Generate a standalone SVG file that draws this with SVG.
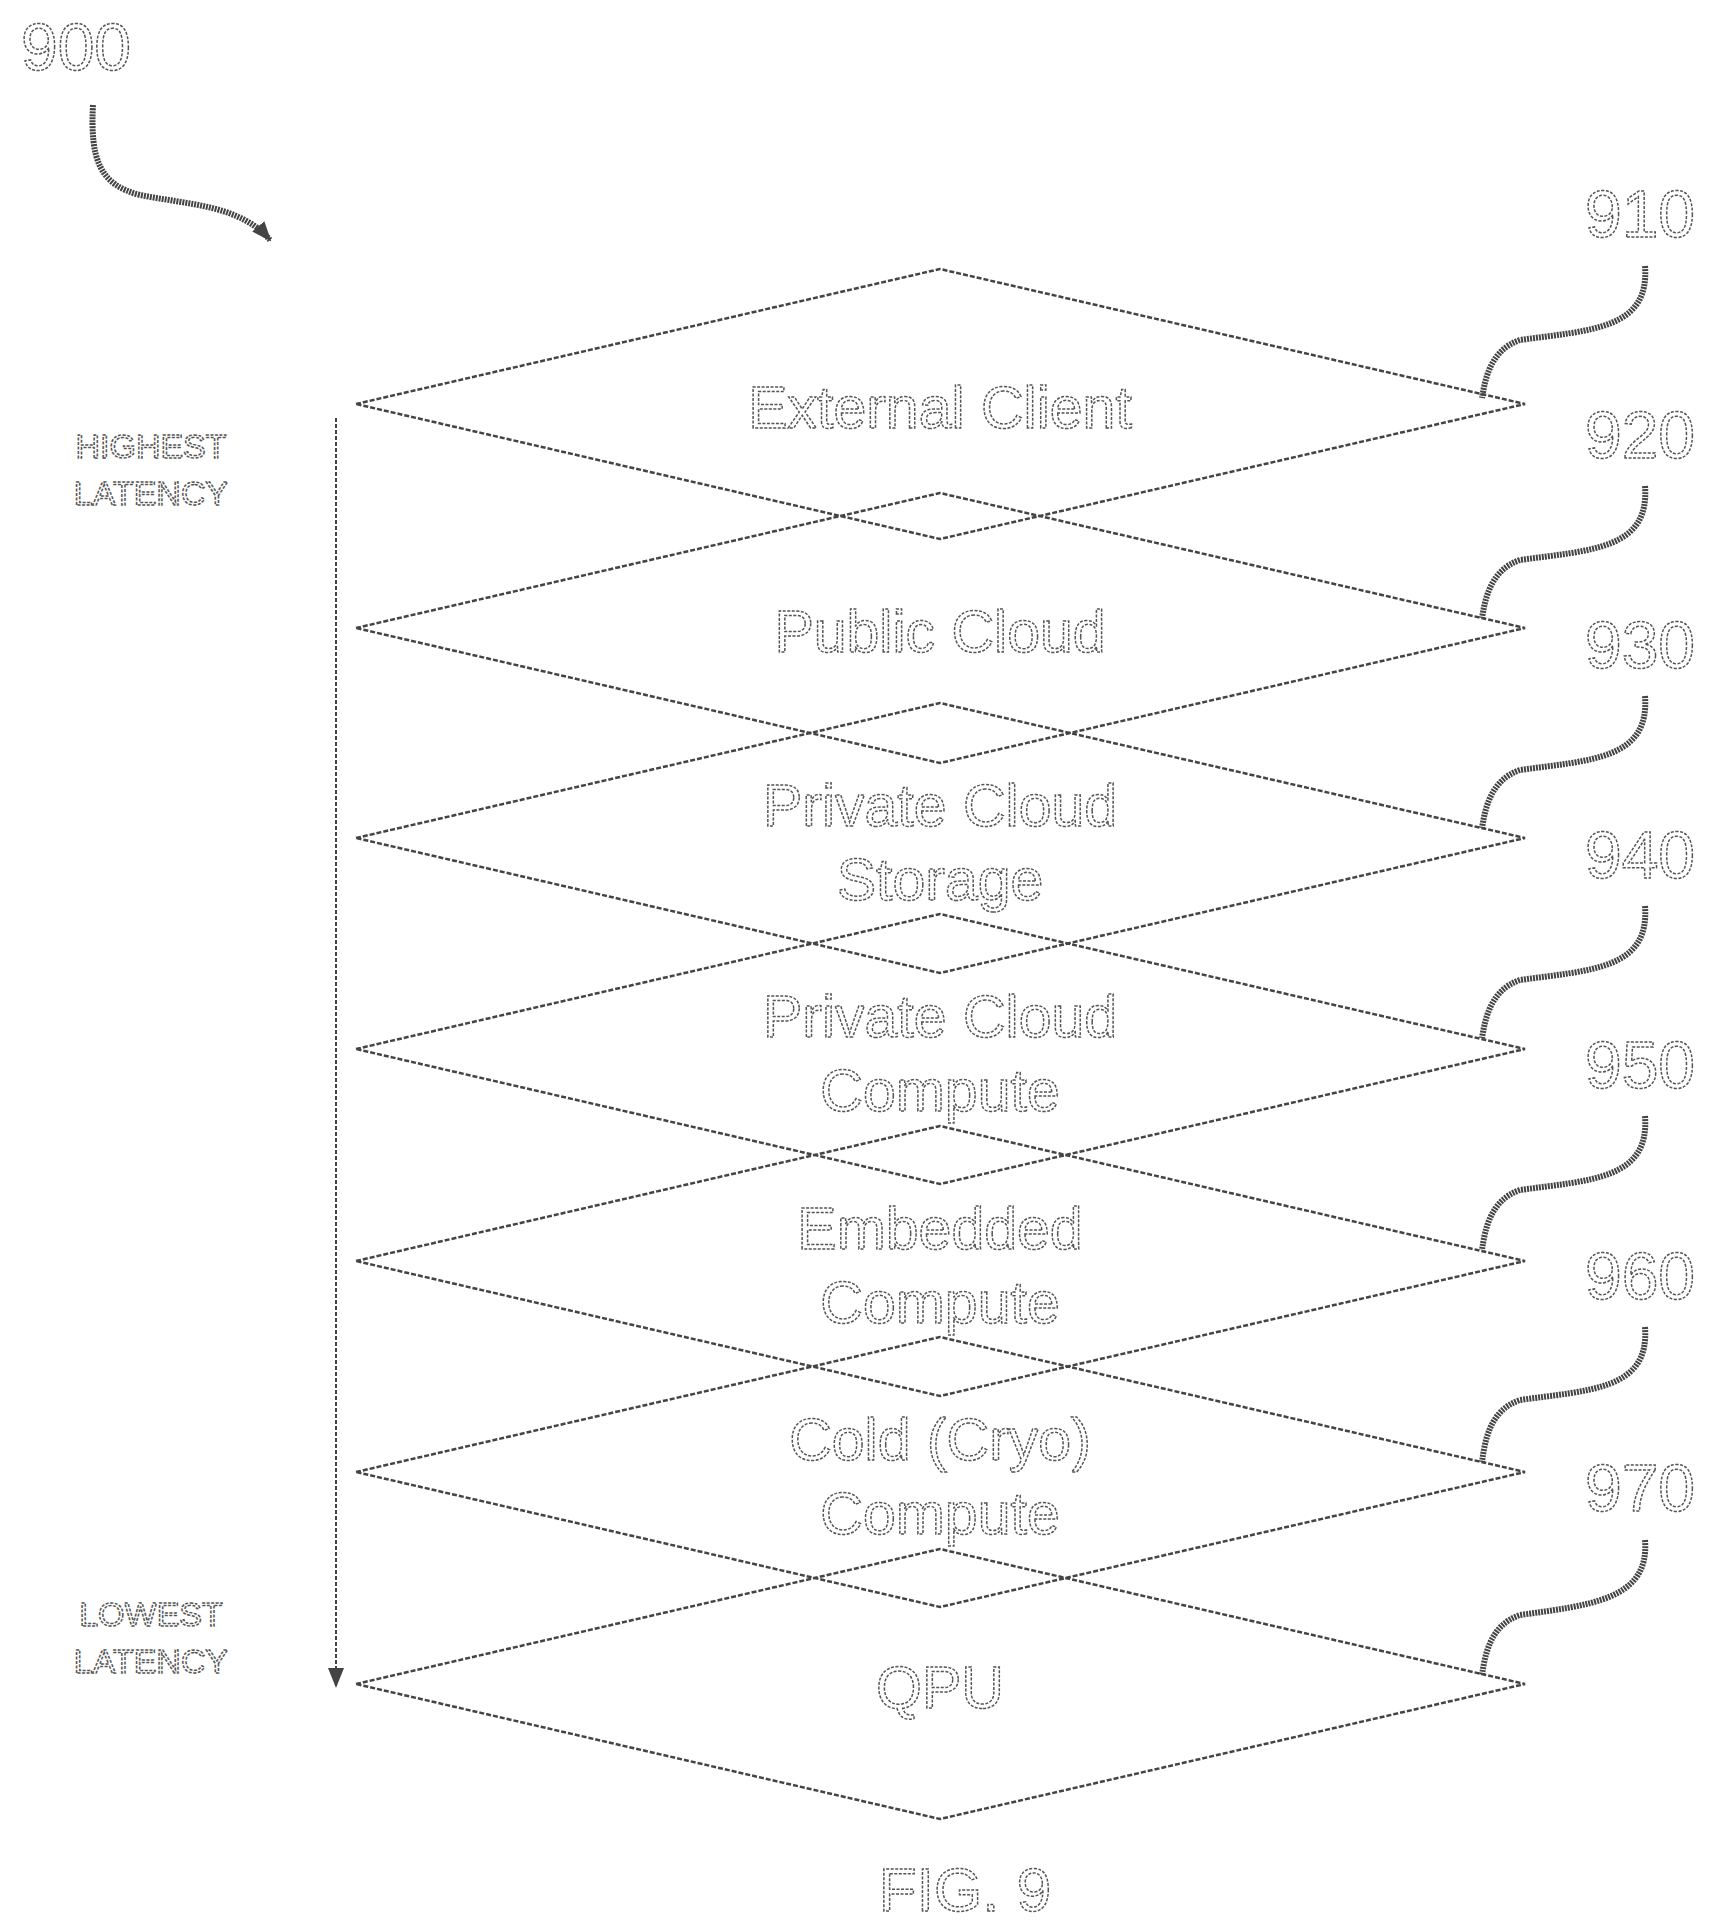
<svg xmlns="http://www.w3.org/2000/svg" width="1719" height="1930" viewBox="0 0 1719 1930">
<style>
.d{fill:none;stroke:#444;stroke-width:2.5;stroke-dasharray:5 2}
.t{font-family:"Liberation Sans",Arial,sans-serif;fill:#fff;stroke:#555;stroke-width:1.5;stroke-dasharray:3 1.5;text-anchor:middle}
.l{font-size:59px}
.n{font-size:66px}
.s{font-size:34px}
.q{fill:none;stroke:#444;stroke-width:6;stroke-dasharray:2 1}
</style>
<defs>
<marker id="b" markerWidth="22" markerHeight="22" refX="18" refY="11" orient="auto" markerUnits="userSpaceOnUse" viewBox="0 0 22 22"><path d="M0,3 L20,11 L0,19 z" fill="#444"/></marker>
</defs>
<text class="t n" x="76" y="70">900</text>
<g id="connectors">
<path class="q" d="M93,105 C90,160 100,185 140,195 C190,205 240,205 270,240" marker-end="url(#b)"/>
<line x1="336" y1="418" x2="336" y2="1686" stroke="#444" stroke-width="2" stroke-dasharray="4 2" marker-end="url(#b)"/>
</g>
<text class="t s" x="151" y="458">HIGHEST</text>
<text class="t s" x="151" y="505">LATENCY</text>
<text class="t s" x="151" y="1626">LOWEST</text>
<text class="t s" x="151" y="1673">LATENCY</text>
<g id="n910"><path class="d" d="M356,404 L940,269 L1525,404 L940,539 Z"/><text class="t l" x="940" y="428">External Client</text><text class="t n" x="1640" y="237">910</text><path class="q" d="M1645,266 C1650,330 1590,330 1520,340 C1490,350 1485,380 1482,398"/></g>
<g id="n920"><path class="d" d="M356,628 L940,493 L1525,628 L940,763 Z"/><text class="t l" x="940" y="652">Public Cloud</text><text class="t n" x="1640" y="458">920</text><path class="q" d="M1645,486 C1650,550 1590,550 1520,560 C1490,570 1485,600 1482,618"/></g>
<g id="n930"><path class="d" d="M356,838 L940,703 L1525,838 L940,973 Z"/><text class="t l" x="940" y="826">Private Cloud</text><text class="t l" x="940" y="900">Storage</text><text class="t n" x="1640" y="668">930</text><path class="q" d="M1645,696 C1650,760 1590,760 1520,770 C1490,780 1485,810 1482,828"/></g>
<g id="n940"><path class="d" d="M356,1049 L940,914 L1525,1049 L940,1184 Z"/><text class="t l" x="940" y="1037">Private Cloud</text><text class="t l" x="940" y="1111">Compute</text><text class="t n" x="1640" y="878">940</text><path class="q" d="M1645,906 C1650,970 1590,970 1520,980 C1490,990 1485,1020 1482,1038"/></g>
<g id="n950"><path class="d" d="M356,1261 L940,1126 L1525,1261 L940,1396 Z"/><text class="t l" x="940" y="1249">Embedded</text><text class="t l" x="940" y="1323">Compute</text><text class="t n" x="1640" y="1088">950</text><path class="q" d="M1645,1116 C1650,1180 1590,1180 1520,1190 C1490,1200 1485,1230 1482,1250"/></g>
<g id="n960"><path class="d" d="M356,1472 L940,1337 L1525,1472 L940,1607 Z"/><text class="t l" x="940" y="1460">Cold (Cryo)</text><text class="t l" x="940" y="1534">Compute</text><text class="t n" x="1640" y="1299">960</text><path class="q" d="M1645,1327 C1650,1390 1590,1390 1520,1400 C1490,1410 1485,1440 1482,1462"/></g>
<g id="n970"><path class="d" d="M356,1684 L940,1549 L1525,1684 L940,1819 Z"/><text class="t l" x="940" y="1708">QPU</text><text class="t n" x="1640" y="1511">970</text><path class="q" d="M1645,1540 C1650,1600 1590,1605 1520,1615 C1490,1625 1485,1655 1482,1675"/></g>
<text class="t" x="965" y="1911" font-size="62">FIG. 9</text>
</svg>
